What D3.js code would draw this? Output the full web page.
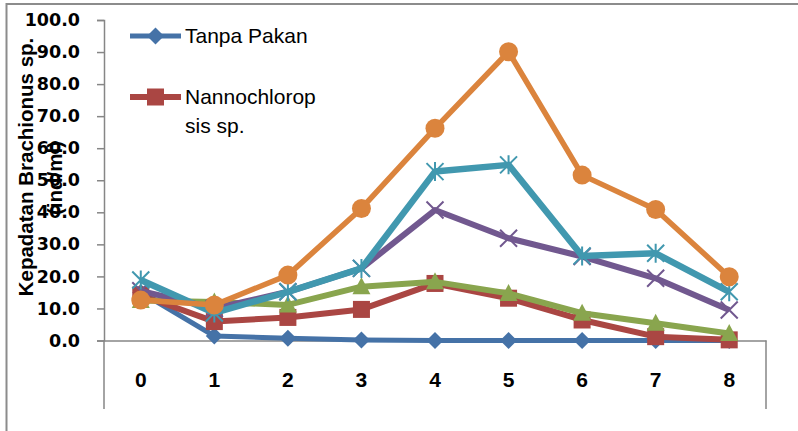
<!DOCTYPE html>
<html>
<head>
<meta charset="utf-8">
<script src="https://cdn.jsdelivr.net/npm/d3@7"></script>
<style>
  body { margin: 0; background: #fff; }
  svg { display: block; }
</style>
</head>
<body>
<div id="chart"></div>
<script>
const width = 798;
const height = 431;

// days
const days = ["0", "1", "2", "3", "4", "5", "6", "7", "8"];
const yTicks = [0, 10, 20, 30, 40, 50, 60, 70, 80, 90, 100];

// density values per series
const tanpaPakan = [15.0, 1.4, 0.7, 0.15, 0, 0, 0, 0, 0];
const nannochloropsis = [14.2, 5.9, 7.2, 9.7, 17.8, 13.2, 6.4, 1.2, 0.2];
const seriesGreen = [12.5, 12.0, 11.1, 16.8, 18.3, 14.7, 8.5, 5.4, 2.2];
const seriesPurple = [15.5, 10.0, 15.2, 22.5, 40.7, 31.9, 26.2, 19.4, 9.5];
const seriesCyan = [18.9, 8.6, 15.2, 22.5, 52.7, 54.8, 26.4, 27.2, 15.2];
const seriesOrange = [12.6, 11.1, 20.4, 41.2, 66.2, 90.1, 51.6, 40.9, 19.9];

const legendLabels = [["Tanpa Pakan"], ["Nannochlorop", "sis sp."]];

const series = [
  { values: tanpaPakan, color: "#4572A7", marker: "diamond", lw: 5 },
  { values: nannochloropsis, color: "#AA4643", marker: "square", lw: 6 },
  { values: seriesGreen, color: "#89A54E", marker: "triangle", lw: 6 },
  { values: seriesPurple, color: "#71588F", marker: "x", lw: 6 },
  { values: seriesCyan, color: "#4198AF", marker: "star", lw: 6.5 },
  { values: seriesOrange, color: "#DB843D", marker: "circle", lw: 5.5 }
];

const plot = { left: 104, right: 766, top: 20, bottom: 340.5 };

const svg = d3.select("#chart").append("svg")
  .attr("width", width)
  .attr("height", height);

// outer frame
svg.append("path")
  .attr("d", `M6.5,${height + 5} V4 H${width + 5}`)
  .attr("fill", "none")
  .attr("stroke", "#8c8c8c")
  .attr("stroke-width", 2);

const x = d3.scaleBand().domain(days).range([plot.left, plot.right]).paddingInner(0).paddingOuter(0);
const y = d3.scaleLinear().domain([0, 100]).range([plot.bottom, plot.top]);
const cx = (d) => x(d) + x.bandwidth() / 2;

// y axis
const yAxis = svg.append("g")
  .attr("transform", `translate(${plot.left},0)`)
  .call(d3.axisLeft(y).tickValues(yTicks).tickSize(7).tickPadding(17).tickFormat((d) => d.toFixed(1)));
yAxis.select(".domain").attr("stroke", "#868686").attr("stroke-width", 1.5);
yAxis.selectAll(".tick line").attr("stroke", "#868686").attr("stroke-width", 1.5);
yAxis.selectAll("text")
  .attr("font-family", "DejaVu Sans")
  .attr("font-weight", "bold")
  .attr("font-size", 17.5)
  .attr("fill", "#000");

// x axis
const xAxis = svg.append("g")
  .attr("transform", `translate(0,${plot.bottom})`)
  .call(d3.axisBottom(x).tickSize(0).tickPadding(32));
xAxis.select(".domain").attr("stroke", "#868686").attr("stroke-width", 1.5);
xAxis.selectAll("text")
  .attr("font-family", "Liberation Sans")
  .attr("font-weight", "bold")
  .attr("font-size", 21)
  .attr("fill", "#000");

// long end ticks below the category axis
svg.append("g").selectAll("line")
  .data(x.range())
  .join("line")
  .attr("x1", (d) => d).attr("x2", (d) => d)
  .attr("y1", plot.bottom).attr("y2", 409)
  .attr("stroke", "#868686")
  .attr("stroke-width", 1.5);

// y axis title
const title = svg.append("g")
  .attr("font-family", "Liberation Sans")
  .attr("font-weight", "bold")
  .attr("font-size", 20.5)
  .attr("fill", "#000")
  .attr("text-anchor", "middle");
title.append("text")
  .attr("transform", "translate(33,167) rotate(-90)")
  .text("Kepadatan Brachionus sp.");
title.append("text")
  .attr("transform", "translate(62,178) rotate(-90)")
  .text("(ind/ml)");

function drawMarker(g, type, color) {
  const s = 8.5;
  if (type === "diamond") {
    g.append("path").attr("d", `M0,${-s} L${s},0 L0,${s} L${-s},0Z`).attr("fill", color);
  } else if (type === "square") {
    g.append("rect").attr("x", -s).attr("y", -s).attr("width", 2 * s).attr("height", 2 * s).attr("fill", color);
  } else if (type === "triangle") {
    g.append("path").attr("d", `M0,${-s - 1} L${s + 0.5},${s - 1} L${-s - 0.5},${s - 1}Z`).attr("fill", color);
  } else if (type === "circle") {
    g.append("circle").attr("r", 9.5).attr("fill", color);
  } else if (type === "x") {
    g.append("path").attr("d", `M${-s},${-s} L${s},${s} M${-s},${s} L${s},${-s}`)
      .attr("stroke", color).attr("stroke-width", 2);
  } else if (type === "star") {
    g.append("path").attr("d", `M${-s},${-s} L${s},${s} M${-s},${s} L${s},${-s} M0,${-s - 1} L0,${s + 1}`)
      .attr("stroke", color).attr("stroke-width", 2);
  }
}

const line = d3.line().x((d, i) => cx(days[i])).y((d) => y(d));

series.forEach((s) => {
  const g = svg.append("g");
  g.append("path")
    .datum(s.values)
    .attr("d", line)
    .attr("fill", "none")
    .attr("stroke", s.color)
    .attr("stroke-width", s.lw)
    .attr("stroke-linejoin", "round");
  s.values.forEach((v, i) => {
    const m = g.append("g").attr("transform", `translate(${cx(days[i])},${y(v)})`);
    drawMarker(m, s.marker, s.color);
  });
});

// legend (only the first two entries are visible)
const legend = svg.append("g")
  .attr("font-family", "Liberation Sans")
  .attr("font-size", 21)
  .attr("fill", "#000");
const legendY = [36, 97];
legendLabels.forEach((lines, i) => {
  const s = series[i];
  const ly = legendY[i];
  legend.append("line")
    .attr("x1", 130).attr("x2", 181)
    .attr("y1", ly).attr("y2", ly)
    .attr("stroke", s.color)
    .attr("stroke-width", s.lw);
  drawMarker(legend.append("g").attr("transform", `translate(155.5,${ly})`), s.marker, s.color);
  lines.forEach((t, j) => {
    legend.append("text")
      .attr("x", 185)
      .attr("y", ly + 7 + j * 29)
      .text(t);
  });
});
</script>
</body>
</html>
